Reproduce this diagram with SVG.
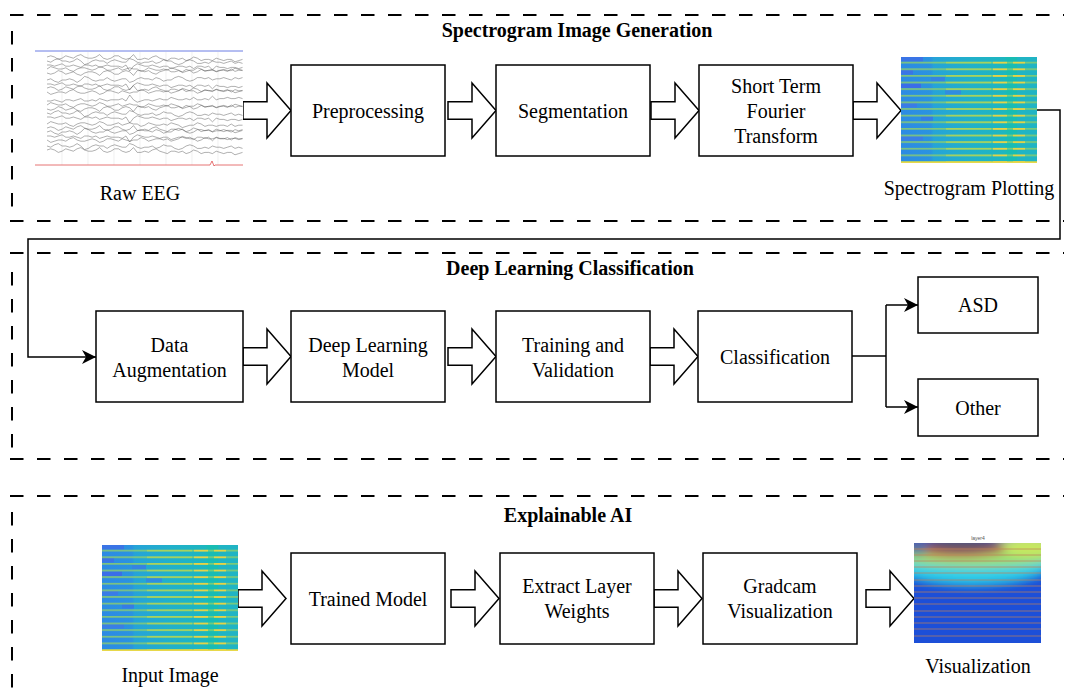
<svg xmlns="http://www.w3.org/2000/svg" xmlns:xlink="http://www.w3.org/1999/xlink" width="1068" height="697" viewBox="0 0 1068 697">
<style>
.box{fill:#fff;stroke:#000;stroke-width:1.5}
.lbl{font-family:"Liberation Serif","Times New Roman",serif;font-size:20px;text-anchor:middle;fill:#000}
.title{font-family:"Liberation Serif","Times New Roman",serif;font-size:20px;font-weight:bold;text-anchor:middle;fill:#000}
.dash{stroke:#000;stroke-width:2;stroke-dasharray:13.5 13.5;fill:none}
.barrow{fill:#fff;stroke:#000;stroke-width:1.5}
.conn{fill:none;stroke:#000;stroke-width:1.5}
.wave{fill:none;stroke:#444;stroke-width:0.5;stroke-linejoin:round;opacity:0.8}
.grid{stroke:#e6e6e6;stroke-width:0.6}
</style>
<defs>
<marker id="ah" markerWidth="16" markerHeight="16" refX="14" refY="7" orient="auto" markerUnits="userSpaceOnUse">
<path d="M14,7 L0,0 L4,7 L0,14 Z" fill="#000"/>
</marker>
<path id="barr" d="M-48,-8.7 H-24 V-27.5 L0,0 L-24,27.5 V8.7 H-48 Z"/>
<path id="waveA" class="wave" d="M0,0 l4,-1 4,1 4,2 4,-1 4,-2 4,1 4,1 4,-2 4,-1 4,2 4,1 4,0 4,-1 4,-2 4,3 4,1 4,-1 4,-2 4,0 4,2 4,1 4,-1 4,-3 4,4 4,0 4,-1 4,1 4,-2 4,-1 4,2 4,1 4,1 4,-2 4,0 4,1 4,-1 4,2 4,-1 4,-2 4,1 4,2 4,-1 4,0 4,1 4,-2 4,1 4,1 4,-1 4,0 4,2 4,-1 4,-1"/>
<path id="waveB" class="wave" d="M0,0 l4,1 4,-2 4,-1 4,2 4,0 4,1 4,-1 4,-2 4,2 4,3 4,-1 4,-2 4,-1 4,1 4,0 4,2 4,-2 4,-1 4,1 4,1 4,0 4,-3 4,1 4,2 4,1 4,-1 4,0 4,-1 4,2 4,-1 4,-2 4,1 4,0 4,2 4,1 4,-1 4,-2 4,-1 4,1 4,2 4,0 4,-1 4,1 4,-2 4,1 4,0 4,1 4,-1 4,-1 4,2 4,-1 4,1"/>
<path id="waveC" class="wave" d="M0,0 l4,0 4,1 4,-1 4,-1 4,2 4,0 4,-1 4,1 4,1 4,-2 4,0 4,1 4,-1 4,2 4,-1 4,-1 4,1 4,0 4,0 4,1 4,-2 4,5 4,-4 4,-2 4,1 4,1 4,0 4,-1 4,1 4,1 4,-1 4,0 4,2 4,-1 4,-1 4,0 4,1 4,-1 4,2 4,-2 4,0 4,1 4,-1 4,3 4,-3 4,1 4,0 4,1 4,-1 4,0 4,1 4,-1"/>
<path id="waveD" class="wave" d="M0,0 l4,-2 4,1 4,1 4,0 4,-1 4,2 4,1 4,-2 4,-1 4,0 4,1 4,1 4,-1 4,-2 4,1 4,2 4,0 4,-1 4,-1 4,2 4,-1 4,-1 4,1 4,0 4,2 4,-1 4,-2 4,1 4,1 4,0 4,-1 4,1 4,-2 4,1 4,1 4,2 4,-1 4,-1 4,0 4,-2 4,1 4,2 4,-1 4,0 4,1 4,-1 4,0 4,1 4,-2 4,2 4,-1 4,0"/>
<linearGradient id="specGrad" x1="0" y1="0" x2="1" y2="0">
<stop offset="0" stop-color="#2d8ae4"/>
<stop offset="0.22" stop-color="#2a93e0"/>
<stop offset="0.24" stop-color="#26a3d8"/>
<stop offset="0.5" stop-color="#21b0cb"/>
<stop offset="0.76" stop-color="#1db6c0"/>
<stop offset="0.78" stop-color="#18bcb4"/>
<stop offset="0.85" stop-color="#18bcb4"/>
<stop offset="0.86" stop-color="#20b4c4"/>
<stop offset="1" stop-color="#20b4c4"/>
</linearGradient>
<pattern id="specRows" x="0" y="0" width="136" height="6.625" patternUnits="userSpaceOnUse">
<rect x="0" y="4.9" width="136" height="1.4" fill="#8fcf6a"/>
<rect x="45" y="4.9" width="45" height="1.4" fill="#b4d654"/>
<rect x="92" y="4.8" width="14" height="1.7" fill="#eed440"/>
<rect x="112" y="4.8" width="12" height="1.7" fill="#eed440"/>
</pattern>
<g id="spec">
<rect x="0" y="0" width="136" height="106" fill="url(#specGrad)"/>
<rect x="0" y="0" width="22" height="4.5" fill="#3a74e6"/>
<rect x="0" y="13" width="12" height="4.5" fill="#3a74e6"/>
<rect x="0" y="26.5" width="20" height="4.5" fill="#3a6ee8"/>
<rect x="30" y="20" width="14" height="4.5" fill="#3584e2"/>
<rect x="0" y="46" width="16" height="4.5" fill="#3a7ce6"/>
<rect x="20" y="59" width="12" height="4.5" fill="#357ce6"/>
<rect x="0" y="79" width="22" height="4.5" fill="#3a7ee6"/>
<rect x="44" y="33" width="16" height="4.5" fill="#308ce0"/>
<rect x="0" y="0" width="136" height="106" fill="url(#specRows)"/>
<rect x="0" y="104.5" width="136" height="1.5" fill="#e8d84a"/>
</g>
<clipPath id="visClip"><rect x="914" y="543" width="127" height="100"/></clipPath>
<filter id="blur" x="-20%" y="-20%" width="140%" height="140%"><feGaussianBlur stdDeviation="5"/></filter>
</defs>

<g id="frames">
<line class="dash" x1="10" y1="15" x2="1064" y2="15"/>
<line class="dash" x1="12" y1="31" x2="12" y2="212"/>
<line class="dash" x1="10" y1="221" x2="1064" y2="221"/>
<line class="dash" x1="10" y1="253" x2="1064" y2="253"/>
<line class="dash" x1="12" y1="272" x2="12" y2="448"/>
<line class="dash" x1="10" y1="459" x2="1064" y2="459"/>
<line class="dash" x1="10" y1="496" x2="1064" y2="496"/>
<line class="dash" x1="12" y1="512" x2="12" y2="697"/>
</g>

<g id="titles">
<text class="title" x="577" y="37">Spectrogram Image Generation</text>
<text class="title" x="570" y="275">Deep Learning Classification</text>
<text class="title" x="568" y="522">Explainable AI</text>
</g>

<g id="connectors">
<path class="conn" d="M1037,110 H1060 V239 H28 V357 H96" marker-end="url(#ah)"/>
<path class="conn" d="M852,356 H886"/>
<path class="conn" d="M886,305 V407"/>
<path class="conn" d="M886,305 H918" marker-end="url(#ah)"/>
<path class="conn" d="M886,407 H918" marker-end="url(#ah)"/>
<use href="#barr" class="barrow" x="291" y="110.5"/>
<use href="#barr" class="barrow" x="496" y="110.5"/>
<use href="#barr" class="barrow" x="699" y="110.5"/>
<use href="#barr" class="barrow" x="901" y="110.5"/>
<use href="#barr" class="barrow" x="291" y="356.5"/>
<use href="#barr" class="barrow" x="496" y="356.5"/>
<use href="#barr" class="barrow" x="698" y="356.5"/>
<use href="#barr" class="barrow" x="286" y="598.5"/>
<use href="#barr" class="barrow" x="499" y="598.5"/>
<use href="#barr" class="barrow" x="702" y="598.5"/>
<use href="#barr" class="barrow" x="914" y="598.5"/>
</g>

<g id="raw-eeg">
<rect x="35" y="51" width="208" height="116" fill="#fff"/>
<line class="grid" x1="62" y1="52" x2="62" y2="165"/>
<line class="grid" x1="88" y1="52" x2="88" y2="165"/>
<line class="grid" x1="114" y1="52" x2="114" y2="165"/>
<line class="grid" x1="140" y1="52" x2="140" y2="165"/>
<line class="grid" x1="166" y1="52" x2="166" y2="165"/>
<line class="grid" x1="192" y1="52" x2="192" y2="165"/>
<line class="grid" x1="218" y1="52" x2="218" y2="165"/>
<line x1="35" y1="51" x2="243" y2="51" stroke="#5a6ee0" stroke-width="0.9"/>
<use href="#waveA" transform="translate(47,57) scale(0.94,1.2)"/>
<use href="#waveB" transform="translate(47,61) scale(0.94,1.2)"/>
<use href="#waveC" transform="translate(47,65) scale(0.94,1.2)"/>
<use href="#waveD" transform="translate(47,69) scale(0.94,1.2)"/>
<use href="#waveA" transform="translate(47,73) scale(0.94,-1.2)"/>
<use href="#waveB" transform="translate(47,80) scale(0.94,-1.2)"/>
<use href="#waveC" transform="translate(47,84) scale(0.94,1.2)"/>
<use href="#waveA" transform="translate(47,88) scale(0.94,1.2)"/>
<use href="#waveD" transform="translate(47,92) scale(0.94,-1.2)"/>
<use href="#waveC" transform="translate(47,101) scale(0.94,-1.2)"/>
<use href="#waveD" transform="translate(47,105) scale(0.94,1.2)"/>
<use href="#waveA" transform="translate(47,109) scale(0.94,-1.2)"/>
<use href="#waveB" transform="translate(47,113) scale(0.94,1.2)"/>
<use href="#waveC" transform="translate(47,117) scale(0.94,1.2)"/>
<use href="#waveD" transform="translate(47,124) scale(0.94,1.2)"/>
<use href="#waveA" transform="translate(47,128) scale(0.94,1.2)"/>
<use href="#waveB" transform="translate(47,132) scale(0.94,-1.2)"/>
<use href="#waveC" transform="translate(47,136) scale(0.94,1.2)"/>
<use href="#waveD" transform="translate(47,140) scale(0.94,-1.2)"/>
<use href="#waveB" transform="translate(47,146) scale(0.94,1.2)"/>
<use href="#waveA" transform="translate(47,150) scale(0.94,1.2)"/>
<path d="M35,165 H210 l2,-4 l2,5 l1,-1 H243" fill="none" stroke="#e05050" stroke-width="0.8"/>
<text class="lbl" x="140" y="200">Raw EEG</text>
</g>

<g id="preprocessing"><rect class="box" x="291" y="65" width="154" height="91"/><text class="lbl" x="368" y="118">Preprocessing</text></g>
<g id="segmentation"><rect class="box" x="496" y="65" width="154" height="91"/><text class="lbl" x="573" y="118">Segmentation</text></g>
<g id="stft"><rect class="box" x="699" y="65" width="154" height="91"/><text class="lbl" x="776" y="93">Short Term</text><text class="lbl" x="776" y="118">Fourier</text><text class="lbl" x="776" y="143">Transform</text></g>

<g id="spectrogram-plotting">
<use href="#spec" x="901" y="57"/>
<text class="lbl" x="969" y="195">Spectrogram Plotting</text>
</g>

<g id="data-augmentation"><rect class="box" x="96" y="311" width="147" height="91"/><text class="lbl" x="169.5" y="352">Data</text><text class="lbl" x="169.5" y="377">Augmentation</text></g>
<g id="deep-learning-model"><rect class="box" x="291" y="311" width="154" height="91"/><text class="lbl" x="368" y="352">Deep Learning</text><text class="lbl" x="368" y="377">Model</text></g>
<g id="training-validation"><rect class="box" x="496" y="311" width="154" height="91"/><text class="lbl" x="573" y="352">Training and</text><text class="lbl" x="573" y="377">Validation</text></g>
<g id="classification"><rect class="box" x="698" y="311" width="154" height="91"/><text class="lbl" x="775" y="364">Classification</text></g>
<g id="asd"><rect class="box" x="918" y="277" width="120" height="56"/><text class="lbl" x="978" y="312">ASD</text></g>
<g id="other"><rect class="box" x="918" y="379" width="120" height="57"/><text class="lbl" x="978" y="415">Other</text></g>

<g id="input-image">
<use href="#spec" x="102" y="545"/>
<text class="lbl" x="170" y="682">Input Image</text>
</g>
<g id="trained-model"><rect class="box" x="291" y="553" width="154" height="91"/><text class="lbl" x="368" y="606">Trained Model</text></g>
<g id="extract-layer-weights"><rect class="box" x="500" y="553" width="154" height="91"/><text class="lbl" x="577" y="593">Extract Layer</text><text class="lbl" x="577" y="618">Weights</text></g>
<g id="gradcam-visualization"><rect class="box" x="703" y="553" width="154" height="91"/><text class="lbl" x="780" y="593">Gradcam</text><text class="lbl" x="780" y="618">Visualization</text></g>

<g id="visualization">
<text x="978" y="540" font-family="Liberation Sans, sans-serif" font-size="5" fill="#555" text-anchor="middle">layer4</text>
<g clip-path="url(#visClip)">
<g filter="url(#blur)">
<rect x="900" y="530" width="160" height="130" fill="#1f4fd8"/>
<ellipse cx="972" cy="562" rx="80" ry="22" fill="#2fcfe8"/>
<ellipse cx="975" cy="553" rx="95" ry="14" fill="#9ee070"/>
<ellipse cx="1030" cy="546" rx="28" ry="10" fill="#c8e860"/>
<ellipse cx="958" cy="548" rx="48" ry="9" fill="#c25a4c"/>
<ellipse cx="962" cy="544" rx="38" ry="7" fill="#55556a"/>
<ellipse cx="916" cy="547" rx="12" ry="8" fill="#5a6aa0"/>
</g>
<g stroke="#c08058" stroke-width="1" opacity="0.7">
<line x1="914" y1="549" x2="1041" y2="549"/>
<line x1="914" y1="555" x2="1041" y2="555"/>
<line x1="914" y1="561" x2="1041" y2="561"/>
<line x1="914" y1="567" x2="1041" y2="567"/>
<line x1="914" y1="573" x2="1041" y2="573"/>
<line x1="914" y1="580" x2="1041" y2="580"/>
<line x1="914" y1="586" x2="1041" y2="586"/>
<line x1="914" y1="592" x2="1041" y2="592"/>
<line x1="914" y1="598" x2="1041" y2="598"/>
<line x1="914" y1="604" x2="1041" y2="604"/>
<line x1="914" y1="611" x2="1041" y2="611"/>
<line x1="914" y1="617" x2="1041" y2="617"/>
<line x1="914" y1="623" x2="1041" y2="623"/>
<line x1="914" y1="629" x2="1041" y2="629"/>
<line x1="914" y1="636" x2="1041" y2="636"/>
</g>
</g>
<text class="lbl" x="978" y="673">Visualization</text>
</g>
</svg>
